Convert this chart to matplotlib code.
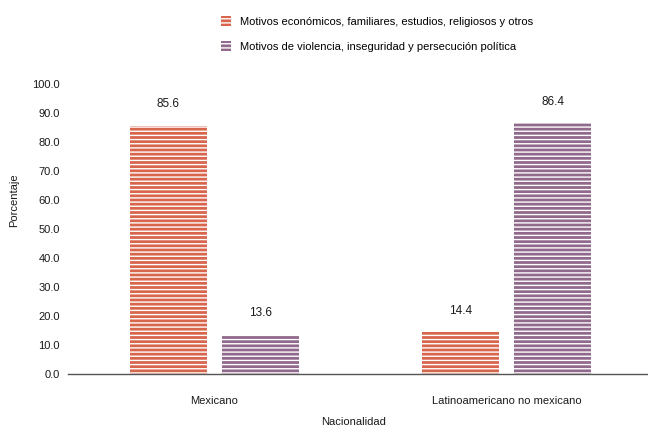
import numpy as np
import matplotlib.pyplot as plt

categorias = ['Mexicano', 'Latinoamericano no mexicano']
economicos = [85.6, 14.4]
violencia = [13.6, 86.4]
series = ['Motivos económicos, familiares, estudios, religiosos y otros',
          'Motivos de violencia, inseguridad y persecución política']

plt.rcParams['font.family'] = ['Liberation Sans', 'DejaVu Sans']
plt.rcParams['hatch.linewidth'] = 1.0

naranja = '#d8664d'
morado = '#90698c'

fig = plt.figure(figsize=(6.48, 4.28), dpi=100)
ax = fig.add_axes([0.105, 0.126, 0.895, 0.678])

x = np.arange(len(categorias))
w = 0.264
off = 0.158
b1 = ax.bar(x - off, economicos, w, color=naranja, edgecolor='white', linewidth=0,
            hatch='----', label=series[0])
b2 = ax.bar(x + off, violencia, w, color=morado, edgecolor='white', linewidth=0,
            hatch='----', label=series[1])

for barras in (b1, b2):
    ax.bar_label(barras, fmt='%.1f', padding=11, fontsize=8.5, color='#1a1a1a')

ax.set_xlim(-0.502, 1.485)
ax.set_ylim(0, 100)
ax.set_yticks(np.arange(0, 101, 10))
ax.set_yticklabels(['%.1f' % v for v in np.arange(0, 101, 10)], fontsize=8, color='#1a1a1a')
ax.set_xticks(x)
ax.set_xticklabels(categorias, fontsize=8, color='#1a1a1a')
ax.tick_params(axis='both', length=0)
ax.tick_params(axis='y', pad=6)
ax.tick_params(axis='x', pad=16)
for s in ['top', 'right', 'left']:
    ax.spines[s].set_visible(False)
ax.spines['bottom'].set_color('#555555')
ax.spines['bottom'].set_linewidth(1.0)

fig.text(0.022, 0.533, 'Porcentaje', rotation=90, ha='center', va='center',
         fontsize=8, color='#1a1a1a')
fig.text(0.545, 0.014, 'Nacionalidad', ha='center', va='center',
         fontsize=8, color='#1a1a1a')

fig.legend(loc='upper left', bbox_to_anchor=(0.326, 0.985), frameon=False,
           fontsize=8, handlelength=0.9, handleheight=0.9, labelspacing=1.3,
           handletextpad=0.8)

fig.savefig('out.png', dpi=100)
